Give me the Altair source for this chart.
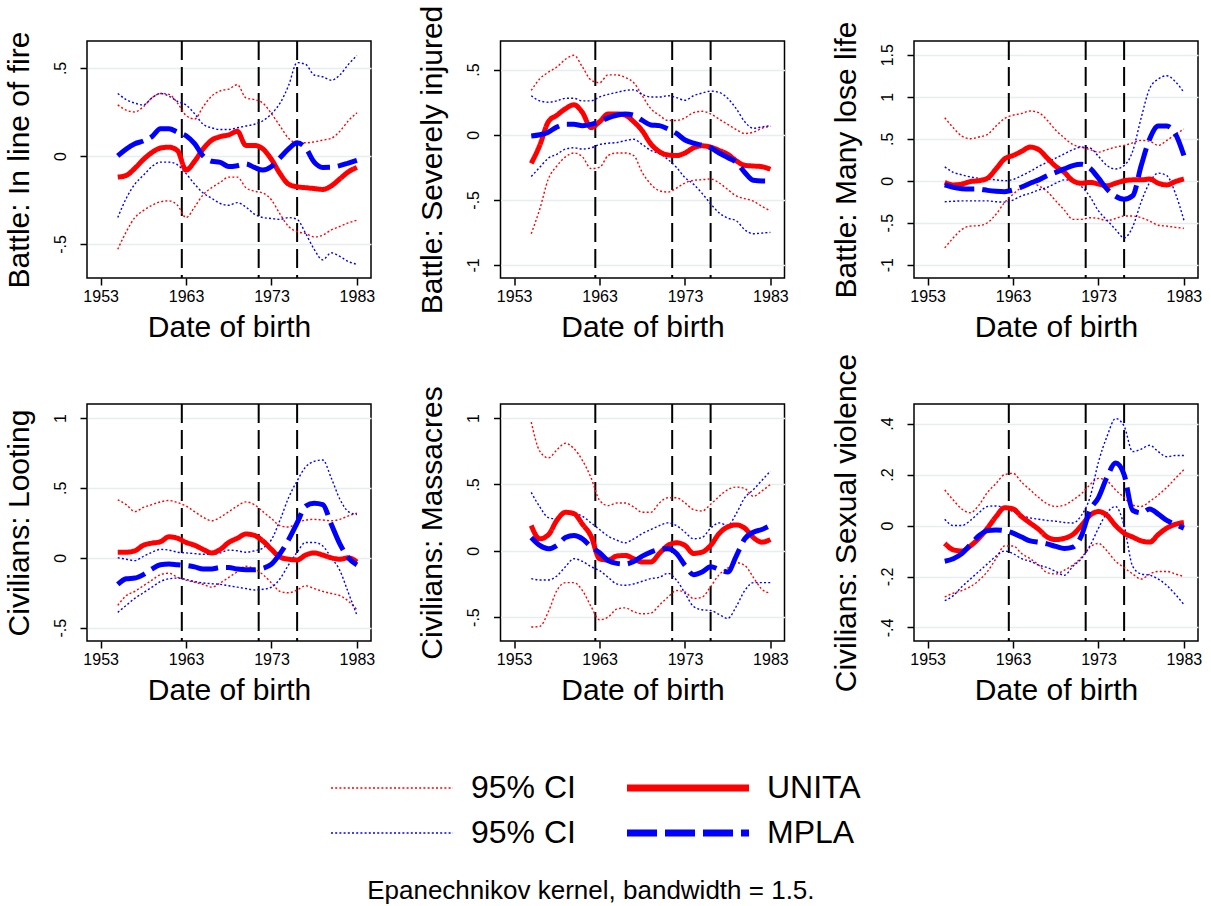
import altair as alt
import pandas as pd

FONT = "Liberation Sans"

YEARS = [1955, 1956, 1957, 1958, 1959, 1960, 1961, 1962, 1963, 1964, 1965, 1966, 1967, 1968, 1969,
         1970, 1971, 1972, 1973, 1974, 1975, 1976, 1977, 1978, 1979, 1980, 1981, 1982, 1983]
X_TICKS = [1953, 1963, 1973, 1983]
X_DOMAIN = [1951.4, 1984.65]
EVENT_LINES = [1962.5, 1971.5, 1976.0]

KEYS = ["ciU", "ciM", "UNITA", "MPLA"]
KEY_COLORS = ["#ff0000", "#0000ff", "#ff0000", "#0000ff"]
KEY_DASHES = [[2, 2.2], [2, 2.2], [1, 0], [30, 8]]

TITLES = ["Battle: In line of fire", "Battle: Severely injured", "Battle: Many lose life",
          "Civilians: Looting", "Civilians: Massacres", "Civilians: Sexual violence"]
Y_TICKS = [[-0.5, 0, 0.5], [-1, -0.5, 0, 0.5], [-1, -0.5, 0, 0.5, 1, 1.5],
           [-0.5, 0, 0.5, 1], [-0.5, 0, 0.5, 1], [-0.4, -0.2, 0, 0.2, 0.4]]
Y_DOMAINS = [[-0.693, 0.653], [-1.10, 0.72], [-1.158, 1.663],
             [-0.595, 1.100], [-0.68, 1.106], [-0.453, 0.477]]

# ---- Panel 1: Battle: In line of fire
p1_unita = [-0.12, -0.11, -0.07, -0.02, 0.02, 0.045, 0.05, 0.03, -0.08, -0.03, 0.04, 0.09, 0.11, 0.12, 0.14,
            0.06, 0.06, 0.04, -0.02, -0.10, -0.16, -0.175, -0.18, -0.185, -0.19, -0.17, -0.13, -0.09, -0.065]
p1_mpla = [0.0, 0.04, 0.07, 0.085, 0.11, 0.155, 0.155, 0.135, 0.115, 0.07, 0.0, -0.03, -0.036, -0.06, -0.055,
           -0.045, -0.065, -0.08, -0.06, -0.01, 0.04, 0.075, 0.045, -0.035, -0.065, -0.064, -0.055, -0.04, -0.025]
p1_unita_hi = [0.29, 0.26, 0.25, 0.28, 0.33, 0.355, 0.35, 0.30, 0.23, 0.21, 0.28, 0.34, 0.37, 0.38, 0.405,
               0.33, 0.32, 0.30, 0.24, 0.17, 0.10, 0.075, 0.075, 0.08, 0.09, 0.10, 0.14, 0.20, 0.245]
p1_unita_lo = [-0.53, -0.43, -0.35, -0.31, -0.28, -0.26, -0.255, -0.28, -0.35, -0.29, -0.22, -0.18, -0.15, -0.12, -0.12,
               -0.18, -0.20, -0.21, -0.25, -0.33, -0.40, -0.43, -0.44, -0.46, -0.45, -0.42, -0.40, -0.38, -0.365]
p1_mpla_hi = [0.355, 0.32, 0.30, 0.29, 0.33, 0.355, 0.34, 0.31, 0.29, 0.24, 0.18, 0.16, 0.15, 0.15, 0.16,
              0.17, 0.18, 0.20, 0.24, 0.30, 0.40, 0.53, 0.52, 0.46, 0.45, 0.43, 0.46, 0.52, 0.57]
p1_mpla_lo = [-0.35, -0.24, -0.16, -0.11, -0.06, -0.035, -0.035, -0.05, -0.10, -0.16, -0.21, -0.24, -0.27, -0.28, -0.265,
              -0.29, -0.33, -0.35, -0.355, -0.36, -0.35, -0.36, -0.44, -0.53, -0.59, -0.55, -0.57, -0.60, -0.615]

# ---- Panel 2: Battle: Severely injured
p2_unita = [-0.22, -0.08, 0.10, 0.15, 0.20, 0.23, 0.17, 0.055, 0.10, 0.16, 0.16, 0.15, 0.10, 0.03, -0.07,
            -0.13, -0.155, -0.16, -0.14, -0.10, -0.085, -0.095, -0.12, -0.15, -0.20, -0.235, -0.24, -0.245, -0.265]
p2_mpla = [-0.01, 0.0, 0.02, 0.06, 0.08, 0.08, 0.07, 0.08, 0.10, 0.13, 0.15, 0.16, 0.15, 0.11, 0.075,
           0.07, 0.045, 0.01, -0.04, -0.065, -0.08, -0.10, -0.14, -0.175, -0.21, -0.29, -0.35, -0.355, -0.355]
p2_unita_hi = [0.34, 0.43, 0.48, 0.52, 0.58, 0.61, 0.52, 0.42, 0.40, 0.46, 0.46, 0.44, 0.40, 0.30, 0.20,
               0.15, 0.11, 0.11, 0.13, 0.17, 0.18, 0.16, 0.12, 0.08, 0.04, 0.01, 0.02, 0.05, 0.065]
p2_unita_lo = [-0.76, -0.57, -0.34, -0.24, -0.17, -0.14, -0.17, -0.26, -0.25, -0.16, -0.14, -0.14, -0.16, -0.29, -0.38,
               -0.43, -0.44, -0.41, -0.37, -0.35, -0.345, -0.34, -0.37, -0.42, -0.47, -0.49, -0.51, -0.55, -0.585]
p2_mpla_hi = [0.30, 0.26, 0.25, 0.26, 0.28, 0.28, 0.26, 0.26, 0.29, 0.31, 0.325, 0.34, 0.345, 0.31, 0.29,
              0.29, 0.30, 0.285, 0.265, 0.30, 0.32, 0.335, 0.325, 0.28, 0.20, 0.10, 0.05, 0.06, 0.07]
p2_mpla_lo = [-0.32, -0.25, -0.18, -0.15, -0.11, -0.10, -0.11, -0.10, -0.075, -0.065, -0.06, -0.045, -0.035, -0.075, -0.12,
              -0.145, -0.19, -0.25, -0.33, -0.38, -0.45, -0.53, -0.60, -0.64, -0.66, -0.73, -0.76, -0.755, -0.75]

# ---- Panel 3: Battle: Many lose life
p3_unita = [-0.02, -0.05, -0.04, -0.01, 0.0, 0.03, 0.14, 0.26, 0.30, 0.35, 0.40, 0.37, 0.27, 0.17, 0.10,
            0.0, -0.03, -0.02, -0.04, -0.06, -0.03, 0.0, 0.01, 0.01, 0.02, -0.03, -0.05, -0.01, 0.02]
p3_mpla = [-0.05, -0.08, -0.095, -0.10, -0.10, -0.115, -0.125, -0.13, -0.11, -0.075, -0.03, 0.01, 0.06, 0.10, 0.14,
           0.18, 0.195, 0.15, 0.03, -0.10, -0.185, -0.22, -0.18, 0.18, 0.50, 0.65, 0.65, 0.56, 0.30]
p3_unita_hi = [0.75, 0.63, 0.53, 0.50, 0.52, 0.55, 0.65, 0.74, 0.78, 0.80, 0.83, 0.81, 0.72, 0.60, 0.51,
               0.43, 0.40, 0.37, 0.34, 0.37, 0.40, 0.42, 0.45, 0.48, 0.47, 0.42, 0.48, 0.55, 0.615]
p3_unita_lo = [-0.80, -0.68, -0.58, -0.54, -0.535, -0.50, -0.40, -0.26, -0.16, -0.08, -0.03, -0.06, -0.13, -0.24, -0.35,
               -0.46, -0.46, -0.44, -0.45, -0.475, -0.45, -0.42, -0.42, -0.44, -0.48, -0.53, -0.54, -0.555, -0.565]
p3_mpla_hi = [0.165, 0.10, 0.07, 0.045, 0.03, 0.02, 0.01, 0.0, 0.015, 0.06, 0.11, 0.17, 0.22, 0.27, 0.32,
              0.37, 0.40, 0.39, 0.29, 0.18, 0.14, 0.18, 0.35, 0.75, 1.10, 1.21, 1.25, 1.18, 1.05]
p3_mpla_lo = [-0.25, -0.245, -0.24, -0.24, -0.24, -0.24, -0.25, -0.255, -0.23, -0.18, -0.15, -0.11, -0.08, -0.03, 0.01,
              0.0, -0.07, -0.19, -0.36, -0.47, -0.58, -0.68, -0.55, -0.25, -0.02, 0.09, 0.06, -0.15, -0.47]

# ---- Panel 4: Civilians: Looting
p4_unita = [0.04, 0.04, 0.05, 0.09, 0.105, 0.115, 0.15, 0.14, 0.11, 0.09, 0.06, 0.035, 0.06, 0.11, 0.14,
            0.17, 0.16, 0.12, 0.06, 0.005, -0.01, -0.015, 0.02, 0.035, 0.02, 0.0, -0.01, 0.0, -0.03]
p4_mpla = [-0.19, -0.15, -0.145, -0.12, -0.08, -0.05, -0.045, -0.05, -0.055, -0.065, -0.08, -0.08, -0.07, -0.07, -0.08,
           -0.085, -0.085, -0.075, -0.045, 0.03, 0.13, 0.25, 0.37, 0.39, 0.38, 0.24, 0.10, 0.0, -0.05]
p4_unita_hi = [0.415, 0.38, 0.33, 0.36, 0.38, 0.40, 0.41, 0.395, 0.37, 0.33, 0.29, 0.265, 0.29, 0.33, 0.37,
               0.40, 0.38, 0.33, 0.28, 0.23, 0.22, 0.25, 0.27, 0.275, 0.27, 0.265, 0.275, 0.30, 0.32]
p4_unita_lo = [-0.34, -0.27, -0.24, -0.20, -0.16, -0.12, -0.11, -0.14, -0.16, -0.175, -0.19, -0.21, -0.18, -0.14, -0.10,
               -0.06, -0.08, -0.12, -0.18, -0.24, -0.25, -0.23, -0.20, -0.22, -0.24, -0.255, -0.27, -0.31, -0.37]
p4_mpla_hi = [0.0, -0.01, -0.02, 0.01, 0.04, 0.06, 0.055, 0.04, 0.035, 0.03, 0.025, 0.025, 0.035, 0.055, 0.05,
              0.04, 0.05, 0.07, 0.13, 0.27, 0.43, 0.55, 0.65, 0.69, 0.70, 0.57, 0.42, 0.33, 0.31]
p4_mpla_lo = [-0.39, -0.34, -0.29, -0.25, -0.21, -0.17, -0.15, -0.145, -0.155, -0.17, -0.18, -0.185, -0.19, -0.20, -0.21,
              -0.22, -0.23, -0.225, -0.21, -0.15, -0.05, 0.04, 0.11, 0.11, 0.085, 0.0, -0.09, -0.25, -0.41]

# ---- Panel 5: Civilians: Massacres
p5_unita = [0.19, 0.09, 0.12, 0.23, 0.29, 0.28, 0.20, 0.11, -0.06, -0.07, -0.04, -0.035, -0.06, -0.085, -0.085,
            -0.02, 0.04, 0.06, 0.04, -0.02, -0.01, 0.04, 0.13, 0.18, 0.195, 0.17, 0.10, 0.065, 0.085]
p5_mpla = [0.10, 0.04, 0.015, 0.04, 0.10, 0.115, 0.09, 0.03, -0.015, -0.075, -0.095, -0.10, -0.08, -0.04, -0.01,
           0.01, 0.015, -0.02, -0.11, -0.18, -0.16, -0.12, -0.14, -0.16, -0.04, 0.09, 0.14, 0.16, 0.19]
p5_unita_hi = [0.97, 0.75, 0.70, 0.76, 0.81, 0.77, 0.68, 0.55, 0.38, 0.34, 0.36, 0.36, 0.33, 0.29, 0.29,
               0.36, 0.40, 0.40, 0.36, 0.31, 0.30, 0.35, 0.41, 0.46, 0.48, 0.47, 0.41, 0.45, 0.50]
p5_unita_lo = [-0.575, -0.57, -0.46, -0.30, -0.24, -0.24, -0.30, -0.42, -0.52, -0.50, -0.44, -0.43, -0.46, -0.475, -0.47,
               -0.41, -0.35, -0.30, -0.31, -0.36, -0.35, -0.27, -0.18, -0.13, -0.09, -0.11, -0.20, -0.29, -0.32]
p5_mpla_hi = [0.44, 0.33, 0.25, 0.24, 0.28, 0.28, 0.26, 0.21, 0.16, 0.11, 0.08, 0.06, 0.09, 0.13, 0.16,
              0.19, 0.21, 0.19, 0.14, 0.09, 0.10, 0.17, 0.21, 0.19, 0.28, 0.40, 0.46, 0.53, 0.60]
p5_mpla_lo = [-0.21, -0.22, -0.22, -0.19, -0.12, -0.06, -0.08, -0.12, -0.15, -0.20, -0.25, -0.26, -0.25, -0.23, -0.21,
              -0.20, -0.17, -0.22, -0.32, -0.42, -0.445, -0.45, -0.48, -0.51, -0.42, -0.30, -0.24, -0.24, -0.24]

# ---- Panel 6: Civilians: Sexual violence
p6_unita = [-0.07, -0.095, -0.10, -0.08, -0.05, -0.01, 0.035, 0.07, 0.065, 0.035, 0.01, -0.015, -0.045, -0.055, -0.05,
            -0.035, 0.0, 0.04, 0.055, 0.04, 0.0, -0.03, -0.045, -0.06, -0.065, -0.035, -0.01, 0.005, 0.012]
p6_mpla = [-0.14, -0.13, -0.11, -0.075, -0.04, -0.02, -0.017, -0.02, -0.03, -0.045, -0.06, -0.065, -0.072, -0.082, -0.09,
           -0.085, -0.04, 0.06, 0.11, 0.19, 0.245, 0.20, 0.06, 0.05, 0.065, 0.045, 0.02, 0.005, -0.01]
p6_unita_hi = [0.14, 0.10, 0.065, 0.05, 0.08, 0.13, 0.165, 0.20, 0.205, 0.17, 0.14, 0.11, 0.085, 0.075, 0.08,
               0.10, 0.125, 0.16, 0.185, 0.175, 0.14, 0.11, 0.08, 0.075, 0.095, 0.12, 0.15, 0.185, 0.22]
p6_unita_lo = [-0.28, -0.265, -0.255, -0.24, -0.215, -0.18, -0.13, -0.08, -0.08, -0.11, -0.13, -0.155, -0.185, -0.19, -0.175,
               -0.155, -0.125, -0.085, -0.07, -0.10, -0.14, -0.165, -0.19, -0.21, -0.19, -0.18, -0.18, -0.19, -0.20]
p6_mpla_hi = [0.025, 0.0, 0.0, 0.02, 0.05, 0.075, 0.077, 0.07, 0.055, 0.04, 0.03, 0.025, 0.02, 0.017, 0.012,
              0.01, 0.04, 0.11, 0.25, 0.35, 0.42, 0.39, 0.29, 0.30, 0.315, 0.29, 0.27, 0.275, 0.275]
p6_mpla_lo = [-0.295, -0.275, -0.24, -0.21, -0.18, -0.15, -0.12, -0.10, -0.11, -0.13, -0.14, -0.155, -0.165, -0.18, -0.195,
              -0.16, -0.13, -0.08, -0.01, 0.05, 0.075, 0.0, -0.16, -0.19, -0.195, -0.21, -0.235, -0.27, -0.31]

PANEL_DATA = [
    (p1_unita, p1_mpla, p1_unita_hi, p1_unita_lo, p1_mpla_hi, p1_mpla_lo),
    (p2_unita, p2_mpla, p2_unita_hi, p2_unita_lo, p2_mpla_hi, p2_mpla_lo),
    (p3_unita, p3_mpla, p3_unita_hi, p3_unita_lo, p3_mpla_hi, p3_mpla_lo),
    (p4_unita, p4_mpla, p4_unita_hi, p4_unita_lo, p4_mpla_hi, p4_mpla_lo),
    (p5_unita, p5_mpla, p5_unita_hi, p5_unita_lo, p5_mpla_hi, p5_mpla_lo),
    (p6_unita, p6_mpla, p6_unita_hi, p6_unita_lo, p6_mpla_hi, p6_mpla_lo),
]

CAPTION = "Epanechnikov kernel, bandwidth = 1.5."

LEGEND = alt.Legend(
    title=None,
    orient="none",
    direction="vertical",
    legendX=289,
    legendY=731,
    padding=0,
    columns=2,
    columnPadding=37,
    rowPadding=13,
    symbolType="stroke",
    symbolSize=14884,
    symbolStrokeWidth=alt.ExprRef(expr="datum.value == 'UNITA' || datum.value == 'MPLA' ? 7 : 1.4"),
    labelFontSize=32,
    labelFont=FONT,
    labelColor="black",
    labelOffset=63,
    labelLimit=1000,
    labelExpr="datum.value == 'UNITA' || datum.value == 'MPLA' ? datum.value : '95% CI'",
)

COLOR = alt.Color("key:N", scale=alt.Scale(domain=KEYS, range=KEY_COLORS), legend=LEGEND)
DASH = alt.StrokeDash("key:N", scale=alt.Scale(domain=KEYS, range=KEY_DASHES), legend=LEGEND)

Y_LABEL_EXPR = "replace(replace(format(datum.value, '~g'), '\u2212', '-'), '0.', '.')"


def make_panel(i):
    unita, mpla, u_hi, u_lo, m_hi, m_lo = PANEL_DATA[i]
    ci_rows = []
    for key, bound, vals in [("ciU", "hi", u_hi), ("ciU", "lo", u_lo), ("ciM", "hi", m_hi), ("ciM", "lo", m_lo)]:
        for yr, v in zip(YEARS, vals):
            ci_rows.append({"year": yr, "value": v, "key": key, "bound": bound})
    est_rows = []
    for key, vals in [("UNITA", unita), ("MPLA", mpla)]:
        for yr, v in zip(YEARS, vals):
            est_rows.append({"year": yr, "value": v, "key": key})
    ci_df = pd.DataFrame(ci_rows)
    est_df = pd.DataFrame(est_rows)
    ev_df = pd.DataFrame({"year": EVENT_LINES})

    x = alt.X("year:Q",
              scale=alt.Scale(domain=X_DOMAIN, nice=False, zero=False),
              axis=alt.Axis(values=X_TICKS, format="d", title="Date of birth", grid=False))
    y = alt.Y("value:Q",
              scale=alt.Scale(domain=Y_DOMAINS[i], nice=False, zero=False),
              axis=alt.Axis(values=Y_TICKS[i], title=TITLES[i], grid=True, labelExpr=Y_LABEL_EXPR))

    ev = alt.Chart(ev_df).mark_rule(color="black", strokeWidth=2, strokeDash=[19, 7]).encode(x=x)
    ci = alt.Chart(ci_df).mark_line(strokeWidth=1.4, interpolate="monotone").encode(
        x=x, y=y, color=COLOR, strokeDash=DASH, detail="bound:N")
    est = alt.Chart(est_df).mark_line(strokeWidth=5, interpolate="monotone").encode(
        x=x, y=y, color=COLOR, strokeDash=DASH)
    return alt.layer(ev, ci, est).properties(width=284, height=237)


chart = alt.concat(
    *[make_panel(i) for i in range(6)],
    columns=3,
    spacing=alt.RowColnumber(row=126, column=129.5),
    bounds="flush",
).resolve_scale(
    color="shared", strokeDash="shared"
).properties(
    padding={"left": 3, "top": 4, "right": 5, "bottom": 5},
    background="white",
    title=alt.TitleParams(
        text=CAPTION, orient="bottom", anchor="middle", fontSize=26, fontWeight="normal",
        font=FONT, color="black", offset=29, dx=-12,
    ),
).configure_view(
    stroke="black", strokeWidth=1.5
).configure_axis(
    labelFont=FONT, titleFont=FONT, labelColor="black", titleColor="black",
    titleFontWeight="normal", domain=False,
    tickColor="black", tickWidth=1.5, tickSize=7,
    gridColor="#e6eef0", gridWidth=1.5,
).configure_axisX(
    labelFontSize=16, titleFontSize=30, labelPadding=3, titlePadding=8,
).configure_axisY(
    labelFontSize=16, titleFontSize=30, labelAngle=-90, labelAlign="center",
    labelBaseline="bottom", labelPadding=12, titlePadding=18,
)

chart.save("out.html", embed_options={"renderer": "svg", "actions": False})
